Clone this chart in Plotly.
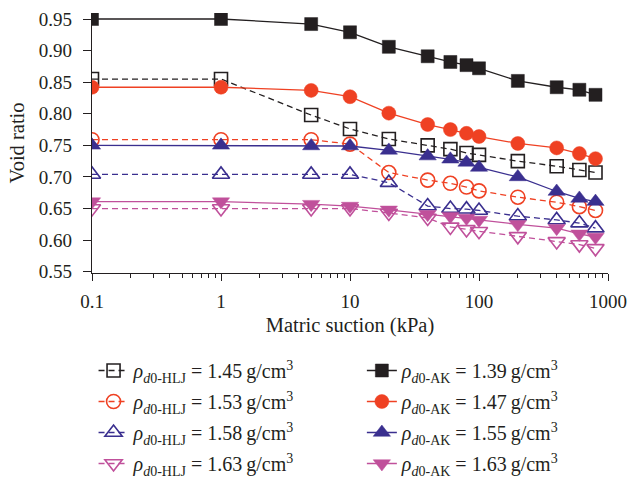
import plotly.graph_objects as go

suction = [0.1, 1, 5, 10, 20, 40, 60, 80, 100, 200, 400, 600, 800]

hlj_145 = [0.855, 0.855, 0.798, 0.776, 0.760, 0.750, 0.744, 0.738, 0.735, 0.725, 0.717, 0.711, 0.707]
hlj_153 = [0.759, 0.759, 0.759, 0.752, 0.707, 0.695, 0.690, 0.684, 0.678, 0.668, 0.660, 0.653, 0.647]
hlj_158 = [0.704, 0.704, 0.704, 0.704, 0.691, 0.654, 0.650, 0.649, 0.647, 0.638, 0.632, 0.627, 0.619]
hlj_163 = [0.650, 0.650, 0.650, 0.650, 0.643, 0.635, 0.621, 0.617, 0.614, 0.606, 0.598, 0.593, 0.587]

ak_139 = [0.950, 0.950, 0.942, 0.929, 0.906, 0.891, 0.882, 0.877, 0.872, 0.852, 0.842, 0.838, 0.830]
ak_147 = [0.842, 0.842, 0.837, 0.827, 0.801, 0.783, 0.775, 0.769, 0.764, 0.753, 0.746, 0.737, 0.729]
ak_155 = [0.750, 0.750, 0.749, 0.749, 0.742, 0.733, 0.728, 0.723, 0.715, 0.700, 0.677, 0.666, 0.661]
ak_163 = [0.661, 0.661, 0.657, 0.654, 0.648, 0.641, 0.638, 0.635, 0.632, 0.625, 0.619, 0.610, 0.605]

hlj_labels = ["1.45", "1.53", "1.58", "1.63"]
ak_labels = ["1.39", "1.47", "1.55", "1.63"]

x_tickvals = [0.1, 1, 10, 100, 1000]
x_ticktext = ["0.1", "1", "10", "100", "1000"]
y_tickvals = [0.55, 0.60, 0.65, 0.70, 0.75, 0.80, 0.85, 0.90, 0.95]

colors = ["#231f20", "#ef4123", "#3a2f8f", "#c0509b"]
hlj_symbols = ["square-open", "circle-open", "triangle-up-open", "triangle-down-open"]
ak_symbols = ["square", "circle", "triangle-up", "triangle-down"]
sizes = [13, 14, 15, 15]

FONT = "Liberation Serif"
INK = "#231f20"
fig = go.Figure()

for i, (vals, lab, col, sym, sz) in enumerate(zip([hlj_145, hlj_153, hlj_158, hlj_163], hlj_labels, colors, hlj_symbols, sizes)):
    fig.add_trace(go.Scatter(
        x=suction, y=vals, mode="lines+markers",
        line=dict(color=col, width=1.3, dash="6px,4px"),
        marker=dict(symbol=sym, size=sz, color=col, line=dict(width=1.6, color=col)),
        name="<i>ρ</i><sub><i>d</i>0-HLJ</sub> = " + lab + "\u2009g/cm<sup>3</sup>",
        legend="legend", legendgroup="h%d" % i,
    ))

for i, (vals, lab, col, sym, sz) in enumerate(zip([ak_139, ak_147, ak_155, ak_163], ak_labels, colors, ak_symbols, sizes)):
    fig.add_trace(go.Scatter(
        x=suction, y=vals, mode="lines+markers",
        line=dict(color=col, width=1.3),
        marker=dict(symbol=sym, size=sz, color=col, line=dict(width=0.5, color=col)),
        name="<i>ρ</i><sub><i>d</i>0-AK</sub> = " + lab + "\u2009g/cm<sup>3</sup>",
        legend="legend2", legendgroup="a%d" % i,
    ))

minor_vals = [m * 10 ** k for k in range(-1, 3) for m in range(2, 10)]

legend_common = dict(
    orientation="v", bgcolor="rgba(0,0,0,0)", borderwidth=0,
    font=dict(family=FONT, size=20, color=INK),
    xanchor="left", yanchor="top", itemwidth=30, tracegroupgap=2,
)

fig.update_layout(
    width=629, height=479,
    margin=dict(l=92, r=21, t=13, b=206, autoexpand=False),
    plot_bgcolor="white", paper_bgcolor="white",
    font=dict(family=FONT, size=19, color=INK),
    showlegend=True,
    legend=dict(x=0.003, y=-0.30, **legend_common),
    legend2=dict(x=0.523, y=-0.30, **legend_common),
    xaxis=dict(
        type="log", range=[-1, 3.0], automargin=False,
        tickvals=x_tickvals, ticktext=x_ticktext,
        ticks="outside", ticklen=7, tickwidth=1, tickcolor=INK,
        minor=dict(tickvals=minor_vals, ticks="outside", ticklen=4, tickwidth=1, tickcolor=INK, showgrid=False),
        showline=True, linecolor=INK, linewidth=1.2,
        showgrid=False, zeroline=False,
        ticklabelstandoff=4,
        tickfont=dict(family=FONT, size=19),
        title=dict(text="Matric suction (kPa)", font=dict(family=FONT, size=20.5), standoff=6),
    ),
    yaxis=dict(
        range=[0.548, 0.9595], automargin=False,
        tickvals=y_tickvals, tickformat=".2f",
        ticks="outside", ticklen=8, tickwidth=1, tickcolor=INK,
        showline=True, linecolor=INK, linewidth=1.2,
        showgrid=False, zeroline=False,
        ticklabelstandoff=7,
        tickfont=dict(family=FONT, size=19),
        title=dict(text="Void ratio", font=dict(family=FONT, size=20.5), standoff=8),
    ),
)

fig.write_html("out.html")
